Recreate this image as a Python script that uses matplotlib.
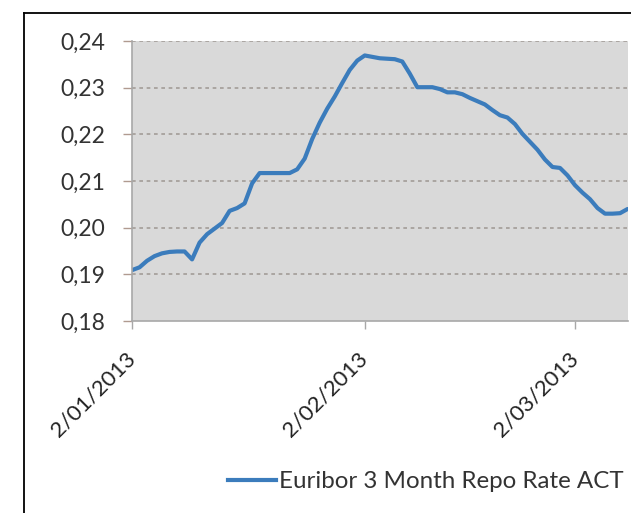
import matplotlib
matplotlib.use("Agg")
import matplotlib.pyplot as plt
import matplotlib.dates as mdates
from matplotlib.lines import Line2D
import numpy as np
import datetime as dt

# ---- data ----
start_date = dt.date(2013, 1, 2)
rate_values = [
    0.1909, 0.1915, 0.1929, 0.1939, 0.1945, 0.1948, 0.1949, 0.1949, 0.1932, 0.1968,
    0.1986, 0.1998, 0.2010, 0.2036, 0.2042, 0.2052, 0.2095, 0.2117, 0.2117, 0.2117,
    0.2117, 0.2117, 0.2125, 0.2148, 0.2190, 0.2225, 0.2255, 0.2281, 0.2310, 0.2338,
    0.2358, 0.2369, 0.2366, 0.2363, 0.2362, 0.2361, 0.2356, 0.2330, 0.2301, 0.2301,
    0.2301, 0.2297, 0.2290, 0.2290, 0.2286, 0.2278, 0.2271, 0.2264, 0.2252, 0.2241,
    0.2236, 0.2222, 0.2201, 0.2184, 0.2167, 0.2146, 0.2130, 0.2128, 0.2112, 0.2091,
    0.2075, 0.2061, 0.2042, 0.2030, 0.2030, 0.2031, 0.2040,
]
dates = [start_date + dt.timedelta(days=i) for i in range(len(rate_values))]
series_name = "Euribor 3 Month Repo Rate ACT"

x_tick_dates = [dt.date(2013, 1, 2), dt.date(2013, 2, 2), dt.date(2013, 3, 2)]
x_tick_labels = ["2/01/2013", "2/02/2013", "2/03/2013"]
y_ticks = [0.18, 0.19, 0.20, 0.21, 0.22, 0.23, 0.24]
y_tick_labels = ["0,18", "0,19", "0,20", "0,21", "0,22", "0,23", "0,24"]

# ---- figure ----
plt.rcParams['font.family'] = ['Lato', 'DejaVu Sans']
W, H = 631, 513
fig = plt.figure(figsize=(W / 100, H / 100), dpi=100)
fig.patch.set_facecolor("white")

ax_left, ax_right, ax_top, ax_bottom = 132, 628, 41, 321
ax = fig.add_axes([ax_left / W, 1 - ax_bottom / H, (ax_right - ax_left) / W, (ax_bottom - ax_top) / H])
ax.set_facecolor("#d9d9d9")

line_color = "#3b7cbc"
ax.plot(mdates.date2num(dates), rate_values, color=line_color, lw=3.0,
        solid_joinstyle="round", solid_capstyle="round", label=series_name, clip_on=True)

x0 = mdates.date2num(start_date)
ax.set_xlim(x0, x0 + 66.06)
ax.set_ylim(0.18, 0.24)

ax.set_xticks(mdates.date2num(x_tick_dates))
ax.set_xticklabels(x_tick_labels, rotation=45, ha="right", va="center", rotation_mode="anchor")
ax.set_yticks(y_ticks)
ax.set_yticklabels(y_tick_labels)

for y in y_ticks[1:]:
    ax.axhline(y, color="#a29c98", lw=1.2, ls=(0, (2.2, 2.2)), zorder=1)

for s in ["top", "right"]:
    ax.spines[s].set_visible(False)
for s in ["left", "bottom"]:
    ax.spines[s].set_color("#a8a8a8")
    ax.spines[s].set_linewidth(1.2)

ax.tick_params(axis="y", length=6.5, width=1.0, color="#b09a90", pad=13,
               labelsize=16.5, labelcolor="#333333")
ax.tick_params(axis="x", length=6, width=1.0, color="#a8a8a8", pad=19,
               labelsize=16, labelcolor="#222222")

# legend
fig.legend(handles=[Line2D([], [], color=line_color, lw=3.0)], labels=[series_name],
           loc="center right", bbox_to_anchor=(624 / W, 1 - 482 / H),
           frameon=False, borderpad=0, borderaxespad=0, handlelength=2.0,
           handletextpad=0.12, fontsize=17.4, labelcolor="#333333")

# outer frame (partial border)
fig.add_artist(Line2D([24 / W, 24 / W], [0, 1 - 13 / H], color="black", lw=1.3,
                      transform=fig.transFigure))
fig.add_artist(Line2D([24 / W, 1], [1 - 13 / H, 1 - 13 / H], color="black", lw=1.3,
                      transform=fig.transFigure))

fig.savefig("out.png", dpi=100)
